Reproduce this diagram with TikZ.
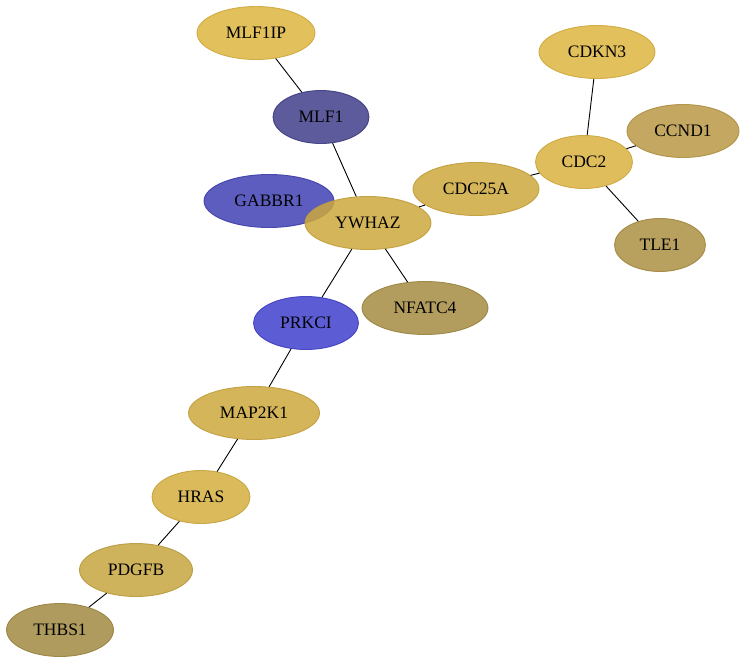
\documentclass[tikz,border=0pt]{standalone}
\usepackage{fontspec}
\setmainfont{Liberation Serif}
\usetikzlibrary{shapes.geometric}
\definecolor{goldA}{RGB}{221,181,64}
\definecolor{goldB}{RGB}{218,178,64}
\definecolor{goldC}{RGB}{205,168,61}
\definecolor{goldD}{RGB}{211,174,62}
\definecolor{goldE}{RGB}{198,164,64}
\definecolor{oliveA}{RGB}{186,153,71}
\definecolor{oliveB}{RGB}{172,143,67}
\definecolor{oliveC}{RGB}{165,140,67}
\definecolor{oliveD}{RGB}{162,138,66}
\definecolor{navyA}{RGB}{65,62,138}
\definecolor{blueA}{RGB}{64,65,180}
\definecolor{blueB}{RGB}{64,64,205}
\begin{document}
\begin{tikzpicture}[x=1pt,y=-1pt,
    gene/.style={ellipse,draw=#1!93!black,fill=#1,line width=0.9pt,
        fill opacity=0.85,draw opacity=0.9,text opacity=1,inner sep=0pt,
        minimum height=53pt,font=\fontsize{17.5}{20}\selectfont},
    link/.style={line width=0.9pt}]
    \useasboundingbox (0,0) rectangle (745,664);
    \node[gene=goldA,minimum width=118pt] (mlfip) at (256,33) {MLF1IP};
    \node[gene=navyA,minimum width=96pt] (mlf) at (321,117) {MLF1};
    \node[gene=blueA,minimum width=130pt] (gabbr) at (269,201) {GABBR1};
    \node[gene=goldC,minimum width=126pt] (ywhaz) at (368,223) {YWHAZ};
    \node[gene=goldC,minimum width=126pt] (cdc25a) at (476,189) {CDC25A};
    \node[gene=goldA,minimum width=116pt] (cdkn) at (597,52) {CDKN3};
    \node[gene=goldB,minimum width=97pt] (cdc) at (584,162) {CDC2};
    \node[gene=oliveA,minimum width=112pt] (ccnd) at (683,131) {CCND1};
    \node[gene=oliveB,minimum width=91pt] (tle) at (660,245) {TLE1};
    \node[gene=oliveC,minimum width=126pt] (nfatc) at (425,308) {NFATC4};
    \node[gene=blueB,minimum width=105pt] (prkci) at (306,323) {PRKCI};
    \node[gene=goldC,minimum width=131pt] (mapk) at (254,413) {MAP2K1};
    \node[gene=goldD,minimum width=98pt] (hras) at (201,497) {HRAS};
    \node[gene=goldE,minimum width=113pt] (pdgfb) at (136,570) {PDGFB};
    \node[gene=oliveD,minimum width=107pt] (thbs) at (60,630) {THBS1};
    \draw[link] (mlfip) -- (mlf);
    \draw[link] (mlf) -- (ywhaz);
    \draw[link] (ywhaz) -- (cdc25a);
    \draw[link] (cdc25a) -- (cdc);
    \draw[link] (cdc) -- (cdkn);
    \draw[link] (cdc) -- (ccnd);
    \draw[link] (cdc) -- (tle);
    \draw[link] (ywhaz) -- (nfatc);
    \draw[link] (ywhaz) -- (prkci);
    \draw[link] (prkci) -- (mapk);
    \draw[link] (mapk) -- (hras);
    \draw[link] (hras) -- (pdgfb);
    \draw[link] (pdgfb) -- (thbs);
\end{tikzpicture}
\end{document}
